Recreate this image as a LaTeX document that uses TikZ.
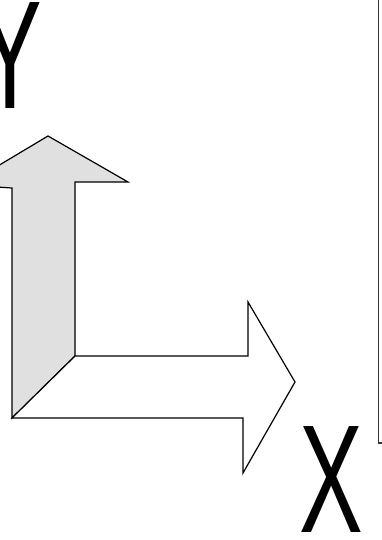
\documentclass[tikz,border=0pt]{standalone}
\usepackage{fontspec}
\setmainfont{Liberation Sans}
\begin{document}
\begin{tikzpicture}[x=1pt, y=-1pt, line join=miter]
\tikzset{
  axislabel/.style={inner sep=0pt, font=\fontsize{154}{154}\selectfont},
  arrowshape/.style={draw=black, line width=1.2pt}
}
\useasboundingbox (0,0) rectangle (382,540);
\clip (0,0) rectangle (382,540);

\draw[draw=black!80, line width=1.5pt] (378.5,-10) rectangle (400,443);

\draw[arrowshape, fill=black!12] (12,418) -- (12,188) -- (-34,185) -- (48,136) -- (128,182) -- (75,182) -- (75,356) -- cycle;
\draw[arrowshape, fill=white] (12,418) -- (75,356) -- (248,356) -- (248,302) -- (295,382) -- (243,473) -- (243,418) -- cycle;

\node[axislabel] (ly) at (10,56) {\scalebox{0.62}[1]{Y}};
\node[axislabel] (lx) at (331.5,480) {\scalebox{0.62}[1]{X}};
\end{tikzpicture}
\end{document}
